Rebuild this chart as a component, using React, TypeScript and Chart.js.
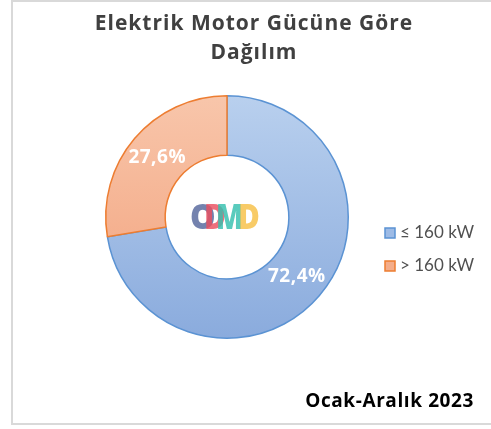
import React, { useEffect, useRef } from "react";
import { Chart, registerables } from "chart.js";

Chart.register(...registerables);

const categories = ["≤ 160 kW", "> 160 kW"];
const shares = [72.4, 27.6];
const titleLines = ["Elektrik Motor Gücüne Göre", "Dağılım"];
const periodLabel = "Ocak-Aralık 2023";
const logoLetters = ["O", "D", "M", "D"];
const logoColors = ["#56679c", "#ea4f5f", "#35c0ae", "#f7bf45"];
const fillTop = ["#b9d0ee", "#f8c6ab"];
const fillBottom = ["#8aabdd", "#f2a07a"];
const borderColors = ["#5b93d3", "#ed7d31"];
const legendSwatch = ["#9dbbe6", "#f4ad8a"];

const W = 491;
const H = 429;

const fmt = (v: number) => v.toFixed(1).replace(".", ",") + "%";

const decorPlugin = {
  id: "decor",
  beforeDraw(chart: any) {
    const ctx = chart.ctx;
    ctx.save();
    ctx.fillStyle = "#ffffff";
    ctx.fillRect(0, 0, W, H);
    ctx.strokeStyle = "#d9d9d9";
    ctx.lineWidth = 2;
    ctx.strokeRect(12, 1, 520, 423);
    ctx.restore();
  },
  afterDatasetsDraw(chart: any) {
    const ctx = chart.ctx;
    const meta = chart.getDatasetMeta(0);
    ctx.save();
    // percentage labels
    ctx.fillStyle = "#ffffff";
    ctx.font = "bold 19px 'Open Sans'";
    (ctx as any).letterSpacing = "0.5px";
    ctx.textAlign = "center";
    ctx.textBaseline = "middle";
    meta.data.forEach((arc: any, i: number) => {
      const p = arc.tooltipPosition();
      ctx.fillText(fmt(chart.data.datasets[0].data[i]), p.x, p.y);
    });
    (ctx as any).letterSpacing = "0px";
    // centre logo
    const cx = meta.data[0].x;
    const cy = meta.data[0].y;
    ctx.font = "800 35px 'Open Sans'";
    ctx.textAlign = "left";
    ctx.textBaseline = "alphabetic";
    const offs = [-37, -23, -11, 11];
    const sx = [0.92, 0.85, 0.8, 0.85];
    logoLetters.forEach((ch, i) => {
      ctx.save();
      ctx.translate(cx + offs[i], cy + 12);
      ctx.scale(sx[i], 1);
      ctx.globalAlpha = 0.82;
      ctx.fillStyle = logoColors[i];
      ctx.fillText(ch, 0, 0);
      ctx.restore();
    });
    ctx.restore();
  },
  afterDraw(chart: any) {
    const ctx = chart.ctx;
    ctx.save();
    // title
    ctx.fillStyle = "#404040";
    ctx.font = "bold 21px 'Open Sans'";
    (ctx as any).letterSpacing = "1px";
    ctx.textAlign = "center";
    ctx.textBaseline = "alphabetic";
    ctx.fillText(titleLines[0], 254, 30);
    ctx.fillText(titleLines[1], 254, 59);
    (ctx as any).letterSpacing = "0px";
    // legend
    const labels = chart.data.labels as string[];
    ctx.font = "17px Lato";
    ctx.textAlign = "left";
    ctx.textBaseline = "middle";
    labels.forEach((lab, i) => {
      const y = 233 + i * 33;
      ctx.fillStyle = legendSwatch[i];
      ctx.fillRect(385, y - 5, 10, 10);
      ctx.strokeStyle = borderColors[i];
      ctx.lineWidth = 1.5;
      ctx.strokeRect(385, y - 5, 10, 10);
      ctx.fillStyle = "#505050";
      ctx.fillText(lab, 400, y);
    });
    // period
    ctx.fillStyle = "#000000";
    ctx.font = "bold 19px 'Open Sans'";
    (ctx as any).letterSpacing = "0.6px";
    ctx.textAlign = "right";
    ctx.textBaseline = "alphabetic";
    ctx.fillText(periodLabel, 474, 407);
    ctx.restore();
  },
};

export default function App() {
  const ref = useRef<HTMLCanvasElement | null>(null);
  useEffect(() => {
    if (!ref.current) return;
    const grad = (i: number) => (c: any) => {
      const area = c.chart.chartArea;
      if (!area) return fillTop[i];
      const g = c.chart.ctx.createLinearGradient(0, area.top, 0, area.bottom);
      g.addColorStop(0, fillTop[i]);
      g.addColorStop(1, fillBottom[i]);
      return g;
    };
    const chart = new Chart(ref.current, {
      type: "doughnut",
      data: {
        labels: categories,
        datasets: [
          {
            data: shares,
            backgroundColor: (c: any) => grad(c.dataIndex)(c),
            borderColor: borderColors,
            borderWidth: 1.5,
          },
        ],
      },
      options: {
        responsive: false,
        animation: false,
        cutout: "51%",
        layout: { padding: { left: 105, right: 142, top: 95, bottom: 90 } },
        plugins: {
          legend: { display: false },
          title: { display: false },
          tooltip: { enabled: false },
        },
      },
      plugins: [decorPlugin],
    });
    return () => chart.destroy();
  }, []);
  return (
    <div style={{ position: "fixed", left: 0, top: 0, width: W, height: H, overflow: "hidden", background: "#fff" }}>
      <canvas ref={ref} width={W} height={H} style={{ width: W, height: H, display: "block" }} />
    </div>
  );
}
